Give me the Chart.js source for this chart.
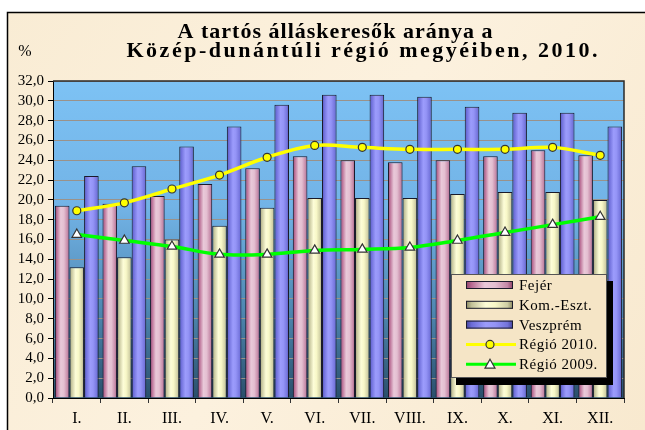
<!DOCTYPE html>
<html>
<head>
  <title>Tartós álláskeresők aránya</title>
  <script src="https://cdn.jsdelivr.net/npm/chart.js"></script>
  <style>
    body { margin: 0; background: #fff; }
    canvas { display: block; }
  </style>
</head>
<body>
  <canvas id="chart" width="645" height="430"></canvas>
  <script>
    // data
    const months = ['I.', 'II.', 'III.', 'IV.', 'V.', 'VI.', 'VII.', 'VIII.', 'IX.', 'X.', 'XI.', 'XII.'];
    const fejer = [19.4, 19.6, 20.4, 21.6, 23.2, 24.4, 24.0, 23.8, 24.0, 24.4, 25.0, 24.5];
    const komEszt = [13.2, 14.2, 16.0, 17.4, 19.2, 20.2, 20.2, 20.2, 20.6, 20.8, 20.8, 20.0];
    const veszprem = [22.4, 23.4, 25.4, 27.4, 29.6, 30.6, 30.6, 30.4, 29.4, 28.8, 28.8, 27.4];
    const regio2010 = [18.9, 19.7, 21.1, 22.5, 24.3, 25.5, 25.3, 25.1, 25.1, 25.1, 25.3, 24.5];
    const regio2009 = [16.5, 15.9, 15.3, 14.5, 14.5, 14.9, 15.0, 15.2, 15.9, 16.7, 17.5, 18.3];

    const titleLines = ['A tartós álláskeresők aránya a', 'Közép-dunántúli régió megyéiben, 2010.'];
    const unitLabel = '%';

    const serif = '"Liberation Serif", "Times New Roman", serif';
    const catPct = 0.92;

    const pinkStops = [[0, '#8e3f68'], [0.12, '#b86a92'], [0.4, '#e9c9d9'], [0.62, '#e4bfd1'], [0.88, '#c487a6'], [1, '#8a3d64']];
    const creamStops = [[0, '#85845c'], [0.12, '#c2c198'], [0.42, '#fdfdd8'], [0.62, '#f8f8c8'], [0.88, '#cfcea4'], [1, '#86855e']];
    const blueStops = [[0, '#43439a'], [0.12, '#6c6cd8'], [0.42, '#9c9cfc'], [0.62, '#9494f6'], [0.88, '#7474dc'], [1, '#40409a']];

    function barGradient(stops, k) {
      return (c) => {
        const chart = c.chart;
        const xs = chart.scales.x;
        if (!xs || !chart.chartArea || c.dataIndex === undefined) return stops[2][1];
        const catW = xs.width / months.length;
        const groupW = catW * catPct;
        const barW = groupW / 3;
        const x0 = xs.getPixelForValue(c.dataIndex) - groupW / 2 + barW * k;
        if (!isFinite(x0) || !isFinite(barW) || barW <= 0) return stops[2][1];
        const g = chart.ctx.createLinearGradient(x0, 0, x0 + barW, 0);
        stops.forEach(s => g.addColorStop(s[0], s[1]));
        return g;
      };
    }

    // paper background, frame and plot gradient
    const backdrop = {
      id: 'backdrop',
      beforeDraw(chart) {
        const { ctx, chartArea: a } = chart;
        ctx.save();
        ctx.fillStyle = '#fff';
        ctx.fillRect(0, 0, chart.width, chart.height);
        const bg = ctx.createLinearGradient(0, 12, chart.width, chart.height);
        bg.addColorStop(0, '#f9ecd4');
        bg.addColorStop(0.5, '#fcf1de');
        bg.addColorStop(1, '#f8e9cf');
        ctx.fillStyle = bg;
        ctx.fillRect(8, 13, chart.width - 8, chart.height - 13);
        ctx.strokeStyle = '#000';
        ctx.lineWidth = 1.5;
        ctx.beginPath();
        ctx.moveTo(7.5, chart.height);
        ctx.lineTo(7.5, 12.5);
        ctx.lineTo(chart.width, 12.5);
        ctx.stroke();
        const pg = ctx.createLinearGradient(0, a.top, 0, a.bottom);
        pg.addColorStop(0, '#7dc2f4');
        pg.addColorStop(0.4, '#72b3e6');
        pg.addColorStop(0.72, '#4f88b2');
        pg.addColorStop(1, '#2a4f6b');
        ctx.fillStyle = pg;
        ctx.fillRect(a.left, a.top, a.right - a.left, a.bottom - a.top);
        ctx.restore();
      },
      beforeDatasetsDraw(chart) {
        const { ctx, chartArea: a } = chart;
        ctx.save();
        ctx.strokeStyle = '#2a2a2a';
        ctx.lineWidth = 1.5;
        ctx.beginPath();
        ctx.moveTo(a.left, a.top);
        ctx.lineTo(a.right, a.top);
        ctx.lineTo(a.right, a.bottom);
        ctx.stroke();
        ctx.restore();
      }
    };

    function fitText(ctx, text, cx, y, width) {
      ctx.letterSpacing = '0px';
      const w = ctx.measureText(text).width;
      const ls = Math.max(0, (width - w) / (text.length - 1));
      ctx.letterSpacing = ls + 'px';
      ctx.textAlign = 'left';
      ctx.fillText(text, cx - width / 2, y);
      ctx.letterSpacing = '0px';
    }

    const titleText = {
      id: 'titleText',
      afterDraw(chart) {
        const ctx = chart.ctx;
        ctx.save();
        ctx.fillStyle = '#000';
        ctx.textBaseline = 'alphabetic';
        ctx.font = 'bold 22px ' + serif;
        fitText(ctx, titleLines[0], 335, 38, 315);
        fitText(ctx, titleLines[1], 362, 57, 471);
        ctx.font = '16px ' + serif;
        ctx.textAlign = 'center';
        ctx.fillText(unitLabel, 25, 56);
        ctx.restore();
      }
    };

    const boxLegend = {
      id: 'boxLegend',
      afterDraw(chart) {
        const ctx = chart.ctx;
        const box = { x: 451, y: 274, w: 156, h: 104 };
        ctx.save();
        ctx.fillStyle = '#000';
        ctx.fillRect(box.x + 5, box.y + 7, box.w + 1, box.h);
        ctx.fillStyle = '#f5e5c6';
        ctx.fillRect(box.x, box.y, box.w, box.h);
        ctx.strokeStyle = '#555';
        ctx.lineWidth = 1;
        ctx.strokeRect(box.x + 0.5, box.y + 0.5, box.w - 1, box.h - 1);
        ctx.font = '15px ' + serif;
        ctx.textBaseline = 'middle';
        ctx.textAlign = 'left';
        chart.data.datasets.forEach((ds, i) => {
          const cy = 285 + i * 19.8;
          if (ds.type === 'bar') {
            const g = ctx.createLinearGradient(466, 0, 513, 0);
            ds.legendStops.forEach(s => g.addColorStop(s[0], s[1]));
            ctx.fillStyle = g;
            ctx.fillRect(466, cy - 4, 47, 8);
            ctx.strokeStyle = '#1a1a2a';
            ctx.lineWidth = 1;
            ctx.strokeRect(466.5, cy - 3.5, 46, 7);
          } else {
            ctx.strokeStyle = ds.borderColor;
            ctx.lineWidth = 3;
            ctx.beginPath();
            ctx.moveTo(466, cy);
            ctx.lineTo(516, cy);
            ctx.stroke();
            ctx.lineWidth = 1.2;
            ctx.fillStyle = ds.pointBackgroundColor;
            ctx.strokeStyle = ds.pointBorderColor;
            ctx.beginPath();
            if (ds.pointStyle === 'triangle') {
              ctx.moveTo(490, cy - 5);
              ctx.lineTo(495, cy + 4);
              ctx.lineTo(485, cy + 4);
              ctx.closePath();
            } else {
              ctx.arc(490, cy, 4, 0, Math.PI * 2);
            }
            ctx.fill();
            ctx.stroke();
          }
          ctx.fillStyle = '#000';
          ctx.letterSpacing = '0.5px';
          ctx.fillText(ds.label, 519, cy + 1);
        });
        ctx.restore();
      }
    };

    function barSet(label, values, stops, k) {
      return {
        type: 'bar',
        label: label,
        data: values,
        legendStops: stops,
        backgroundColor: barGradient(stops, k),
        borderColor: '#1a1a2a',
        borderWidth: 1,
        categoryPercentage: catPct,
        barPercentage: 1,
        order: 2
      };
    }

    function lineSet(label, values, color, style, fill, radius) {
      return {
        type: 'line',
        label: label,
        data: values,
        borderColor: color,
        borderWidth: 3.5,
        tension: 0.35,
        pointStyle: style,
        pointRadius: radius,
        pointBackgroundColor: fill,
        pointBorderColor: '#333',
        pointBorderWidth: 1.2,
        order: 1
      };
    }

    new Chart(document.getElementById('chart'), {
      data: {
        labels: months,
        datasets: [
          barSet('Fejér', fejer, pinkStops, 0),
          barSet('Kom.-Eszt.', komEszt, creamStops, 1),
          barSet('Veszprém', veszprem, blueStops, 2),
          lineSet('Régió 2010.', regio2010, '#ffff00', 'circle', '#ffff00', 4),
          lineSet('Régió 2009.', regio2009, '#00ff00', 'triangle', '#ffffff', 5.5)
        ]
      },
      options: {
        responsive: false,
        animation: false,
        layout: { padding: { left: 0, top: 81, right: 21, bottom: 0 } },
        plugins: {
          legend: { display: false },
          title: { display: false },
          tooltip: { enabled: false }
        },
        scales: {
          x: {
            afterFit: (s) => { s.height = 32; },
            grid: { display: true, drawOnChartArea: false, tickLength: 5, tickColor: '#333' },
            border: { display: true, color: '#000', width: 1 },
            ticks: { color: '#000', font: { family: serif, size: 16 }, padding: 6 }
          },
          y: {
            min: 0,
            max: 32,
            afterFit: (s) => { s.width = 53; },
            grid: { color: '#9a928a', lineWidth: 1, tickLength: 5, tickColor: '#000' },
            border: { display: true, color: '#000', width: 1 },
            ticks: {
              stepSize: 2,
              autoSkip: false,
              color: '#000',
              padding: 4,
              font: { family: serif, size: 15 },
              callback: (v) => v.toFixed(1).replace('.', ',')
            }
          }
        }
      },
      plugins: [backdrop, titleText, boxLegend]
    });
  </script>
</body>
</html>
